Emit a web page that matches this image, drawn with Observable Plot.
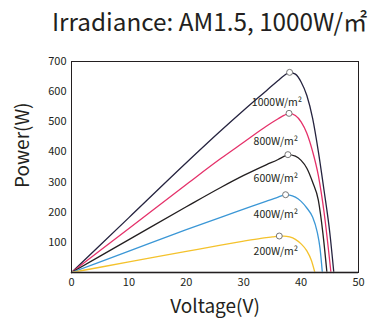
<!DOCTYPE html>
<html>
<head>
<meta charset="utf-8">
<script src="https://cdn.jsdelivr.net/npm/d3@7"></script>
<script src="https://cdn.jsdelivr.net/npm/@observablehq/plot@0.6"></script>
<style>
  html, body { margin: 0; padding: 0; background: #fff; }
  body { width: 372px; height: 324px; position: relative; overflow: hidden; font-family: "Noto Sans CJK SC", "Noto Sans", sans-serif; }
  #title { position: absolute; left: 52px; top: 4px; font-size: 24.3px; line-height: 34px; color: #231f20; white-space: nowrap; }
  #chart { position: absolute; left: 0; top: 52px; }
</style>
</head>
<body>
<div id="title">Irradiance: AM1.5, 1000W/㎡</div>
<div id="chart"></div>
<script>
// Series (irradiance levels)
const series = ["1000W/m²", "800W/m²", "600W/m²", "400W/m²", "200W/m²"];
const colors = ["#25233f", "#e5316a", "#231f20", "#3b97d6", "#f4c22c"];

// Voltage (V) / Power (W)
const v1000 = [0, 10, 20, 26, 30, 34, 36, 37, 38, 39, 40, 41, 42, 43, 44, 45, 45.7];
const p1000 = [0, 182, 364, 470, 538, 604, 637, 653, 664, 658, 632, 587, 512, 402, 272, 132, 0];

const v800 = [0, 10, 20, 26, 30, 34, 36, 37, 37.9, 39, 40, 41, 42, 43, 44, 45.2];
const p800 = [0, 146, 292, 378, 432, 486, 510, 521, 528, 521, 500, 462, 402, 322, 200, 0];

const v600 = [0, 10, 20, 26, 30, 34, 36, 37, 37.7, 39, 40, 41, 42, 43, 43.8, 44.5];
const p600 = [0, 109, 218, 282, 322, 358, 375, 385, 391, 386, 372, 346, 300, 240, 130, 0];

const v400 = [0, 10, 20, 26, 30, 34, 36, 37.3, 38, 39, 40, 41, 42, 42.8, 43.3, 43.7];
const p400 = [0, 71, 142, 183, 210, 237, 250, 258, 257, 250, 236, 214, 184, 135, 80, 0];

const v200 = [0, 10, 20, 26, 30, 33, 35, 36.2, 37, 38, 39, 40, 41, 41.8, 42.4];
const p200 = [0, 35, 70, 91, 104, 113, 118, 121, 121, 118, 110, 95, 72, 40, 0];

// Maximum power points
const mppV = [38, 37.9, 37.7, 37.3, 36.2];
const mppP = [664, 528, 391, 258, 121];

// Curve label positions
const labelV = [35.8, 35.6, 35.6, 35.6, 35.6];
const labelP = [562, 434, 313, 191, 70];

// Ticks
const xTicks = [0, 10, 20, 30, 40, 50];
const yTicks = [100, 200, 300, 400, 500, 600, 700];

const vs = [v1000, v800, v600, v400, v200];
const ps = [p1000, p800, p600, p400, p200];
const curves = series.flatMap((s, i) => vs[i].map((v, j) => ({series: s, v, p: ps[i][j]})));
const mpp = series.map((s, i) => ({series: s, v: mppV[i], p: mppP[i]}));
const labels = series.map((s, i) => ({text: s, v: labelV[i], p: labelP[i]}));

const plot = Plot.plot({
  width: 372,
  height: 272,
  marginLeft: 71,
  marginRight: 14,
  marginTop: 9,
  marginBottom: 52,
  style: {fontFamily: "'Noto Sans CJK SC', 'Noto Sans', sans-serif", fontSize: "11px", color: "#231f20", background: "#fff", overflow: "visible"},
  x: {domain: [0, 50], ticks: xTicks, tickSize: 0, tickPadding: 6, label: null},
  y: {domain: [0, 700], ticks: yTicks, tickSize: 0, tickPadding: 5, label: null},
  color: {domain: series, range: colors},
  marks: [
    Plot.line(curves, {x: "v", y: "p", z: "series", stroke: "series", strokeWidth: 1.3, curve: "monotone-x"}),
    Plot.ruleY([0], {stroke: "#808080", strokeWidth: 2}),
    Plot.frame({stroke: "#231f20", strokeWidth: 1}),
    Plot.dot(mpp, {x: "v", y: "p", r: 3, fill: "#fff", stroke: "#777", strokeWidth: 1}),
    Plot.text(labels, {x: "v", y: "p", text: "text", fontSize: 10.5, fill: "#231f20"}),
    Plot.text(["Voltage(V)"], {frameAnchor: "bottom", dy: 40, fontSize: 19, fill: "#231f20"}),
    Plot.text(["Power(W)"], {frameAnchor: "left", dx: -49, dy: 21, rotate: -90, fontSize: 19, fill: "#231f20"})
  ]
});
document.getElementById("chart").appendChild(plot);
</script>
</body>
</html>
